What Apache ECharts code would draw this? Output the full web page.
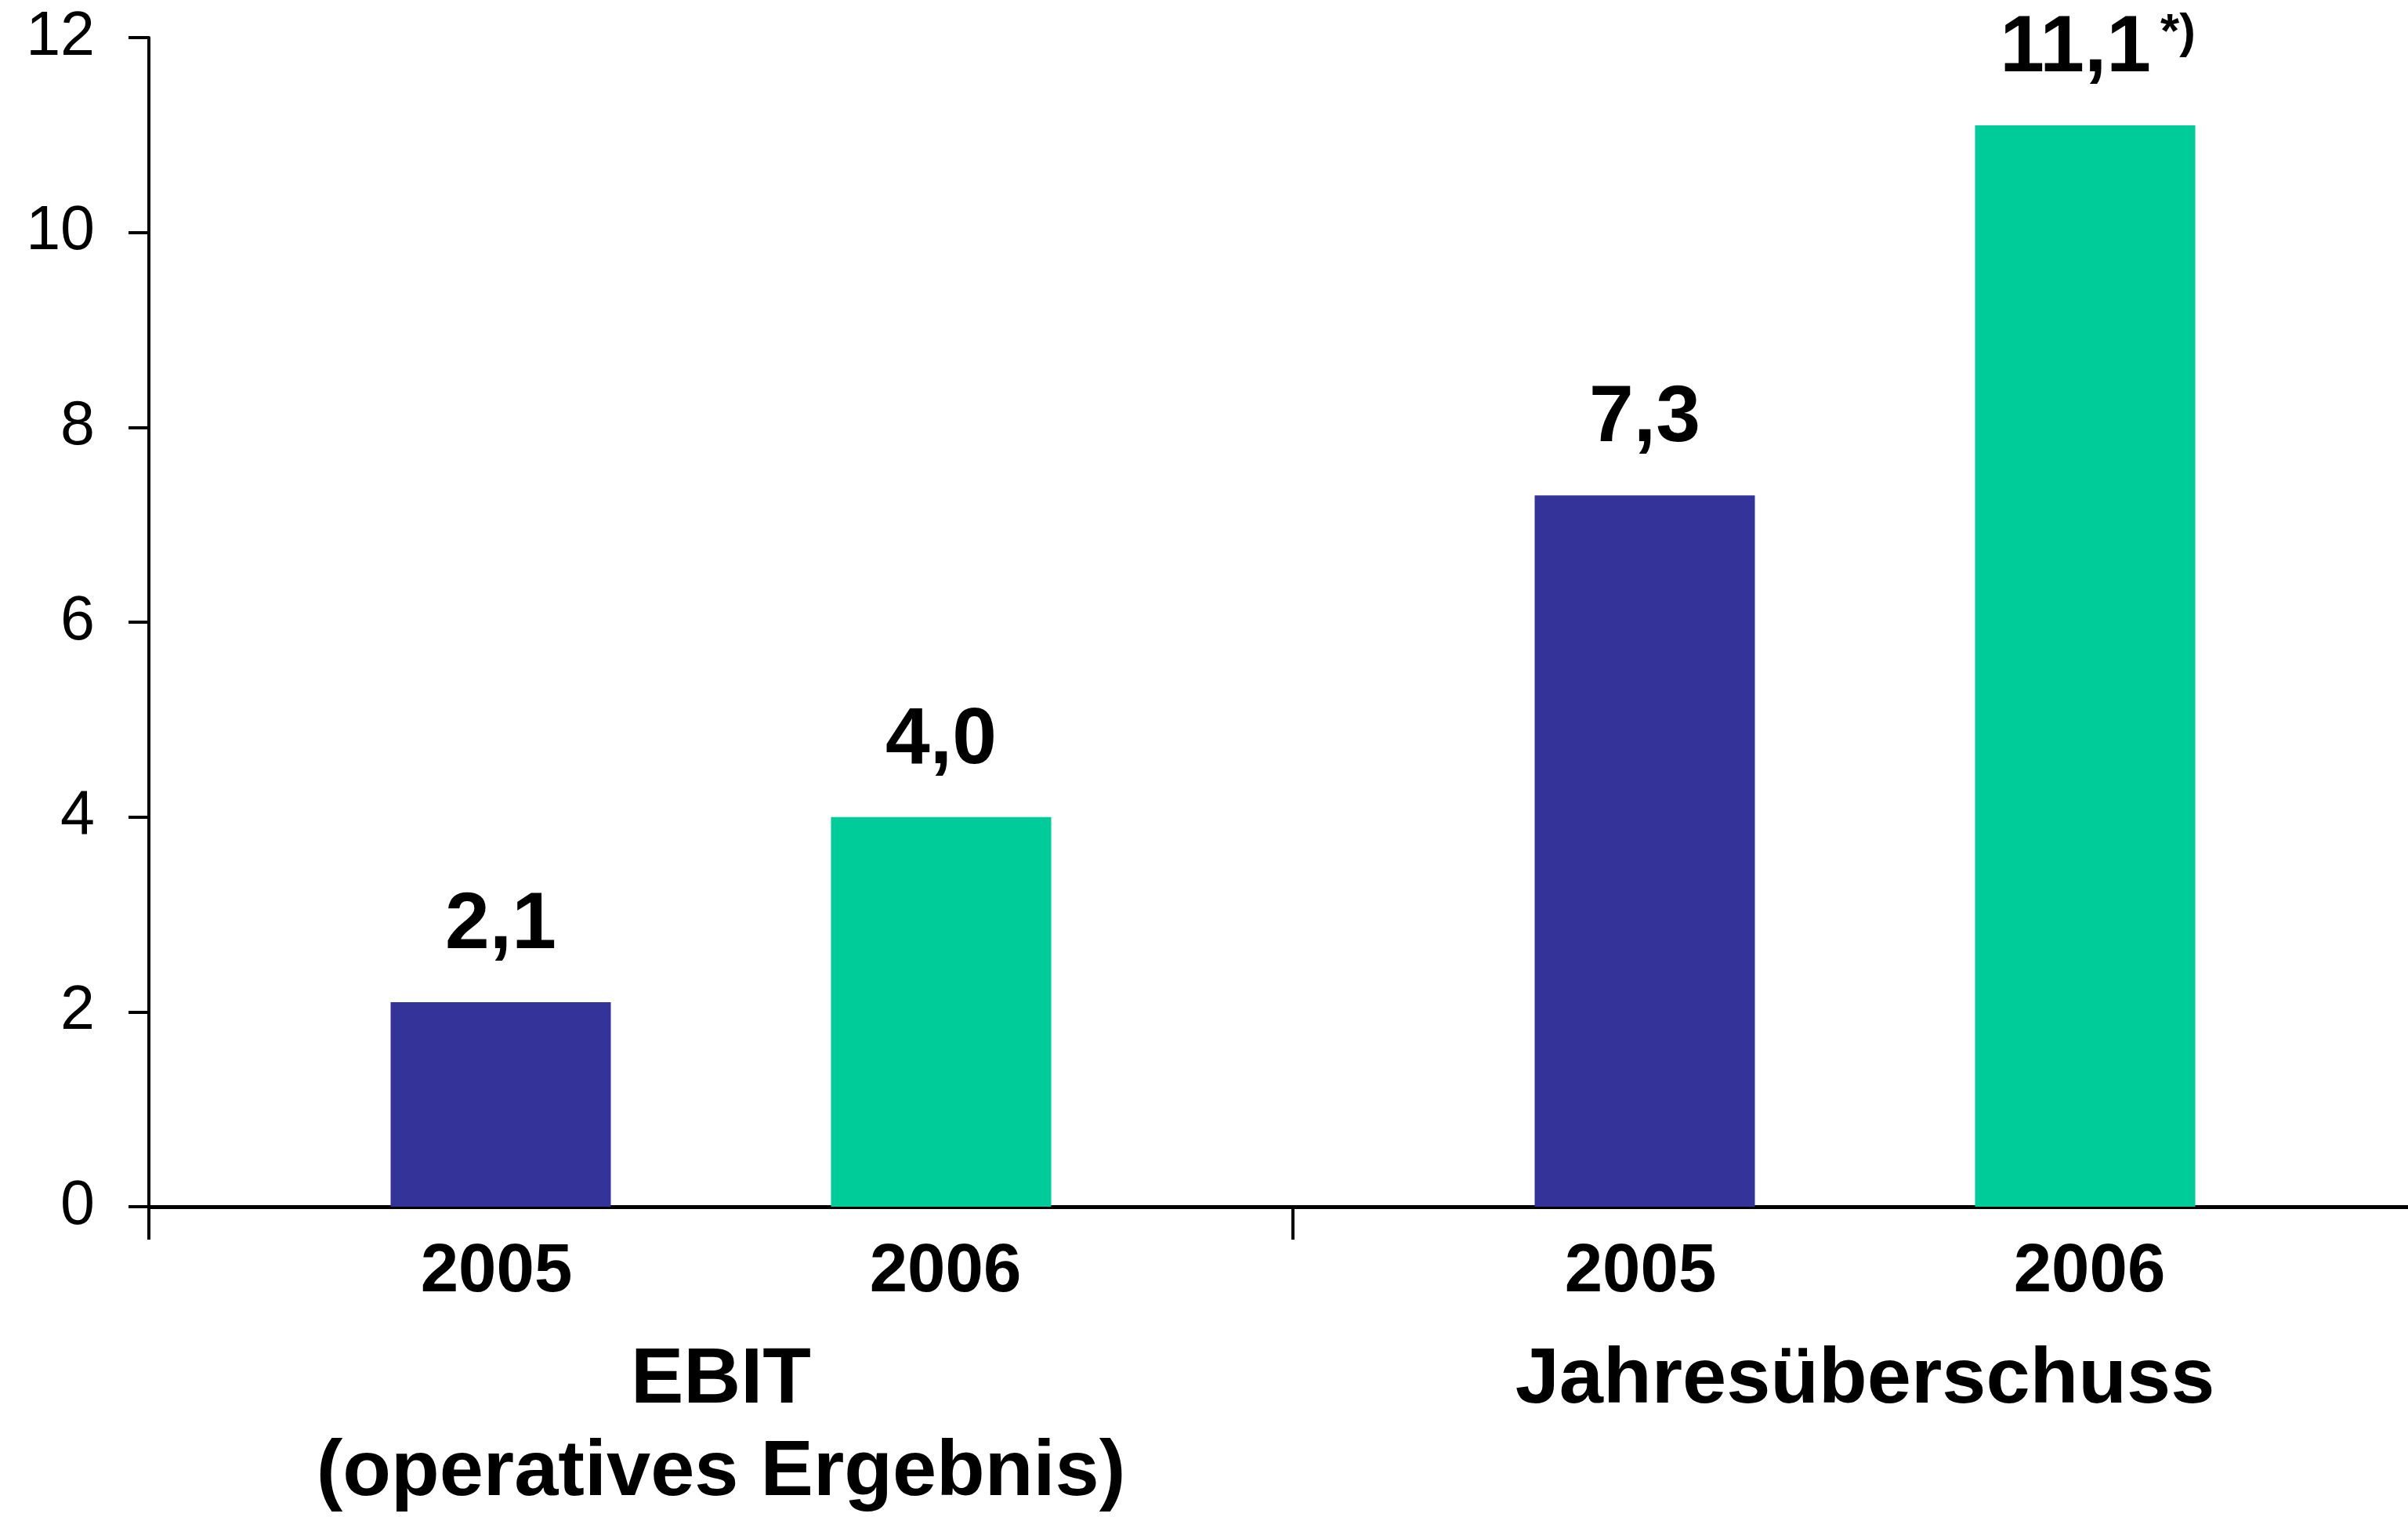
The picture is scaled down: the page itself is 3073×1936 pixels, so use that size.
<!doctype html>
<html lang="de">
<head>
    <meta charset="UTF-8">
    <title>EBIT und Jahresüberschuss</title>
    <style>
        html, body { margin: 0; padding: 0; background: #fff; overflow: hidden; }
        /* Achse läuft über den rechten Rand hinaus, daher breiter als das Fenster */
        #chart { width: 3110px; height: 1936px; }
    </style>
    <script src="https://cdn.jsdelivr.net/npm/echarts@6/dist/echarts.min.js"></script>
</head>
<body>
<div id="chart"></div>
<script type="text/javascript">
    // Kategorien (Titelzeilen je Gruppe)
    var categories = ['EBIT', 'Jahresüberschuss'];
    var subTitles = ['(operatives Ergebnis)', ''];
    var years = ['2005', '2006'];
    // Werte in Mio. EUR
    var values2005 = [2.1, 7.3];
    var values2006 = [4.0, 11.1];
    var notes2006 = ['', '*)'];
    var yTicks = [0, 2, 4, 6, 8, 10, 12];

    var font = "'Liberation Sans', Arial, sans-serif";

    function fmt(v) {
        return v.toFixed(1).replace('.', ',');
    }

    var myChart = echarts.init(document.getElementById('chart'));

    var valueLabel = {
        show: true,
        position: 'top',
        distance: 42,
        formatter: function (p) {
            var s = '{v|' + fmt(p.value) + '}';
            if (p.seriesIndex === 1 && notes2006[p.dataIndex]) {
                s += '{s|' + notes2006[p.dataIndex] + '}';
            }
            return s;
        },
        rich: {
            v: {
                fontFamily: font, fontWeight: 'bold', fontSize: 102,
                lineHeight: 110, color: '#000'
            },
            s: {
                fontFamily: font, fontWeight: 'bold', fontSize: 62,
                lineHeight: 64, verticalAlign: 'top', padding: [4, 0, 0, 12],
                color: '#000',
                textShadowColor: '#7a93b3', textShadowOffsetX: 3, textShadowOffsetY: 2, textShadowBlur: 0
            }
        }
    };

    var data2006 = values2006.map(function (v, i) {
        if (notes2006[i]) {
            return { value: v, label: { offset: [16, 0] } };
        }
        return v;
    });

    myChart.setOption({
        animation: false,
        backgroundColor: '#fff',
        grid: { left: 190, top: 48, right: 0, height: 1492 },
        xAxis: {
            type: 'category',
            data: categories,
            axisLine: { show: true, lineStyle: { color: '#000', width: 5 } },
            axisTick: { show: true, length: 42, interval: 0, lineStyle: { color: '#000', width: 4 } },
            axisLabel: {
                interval: 0,
                margin: 5,
                formatter: function (val, idx) {
                    var s = '{y|' + years[0] + '}{y|' + years[1] + '}\n{t|' + val + '}';
                    if (subTitles[idx]) s += '\n{t|' + subTitles[idx] + '}';
                    return s;
                },
                rich: {
                    y: {
                        fontFamily: font, fontWeight: 'bold', fontSize: 87,
                        lineHeight: 158, width: 573, align: 'center', color: '#000'
                    },
                    t: {
                        fontFamily: font, fontWeight: 'bold', fontSize: 101,
                        lineHeight: 118, color: '#000'
                    }
                }
            },
            splitLine: { show: false }
        },
        yAxis: {
            type: 'value',
            min: yTicks[0],
            max: yTicks[yTicks.length - 1],
            interval: 2,
            axisLine: { show: true, lineStyle: { color: '#000', width: 4 } },
            axisTick: { show: true, length: 26, lineStyle: { color: '#000', width: 4 } },
            axisLabel: {
                margin: 69,
                fontFamily: font, fontSize: 79, color: '#000'
            },
            splitLine: { show: false }
        },
        series: [
            {
                name: years[0],
                type: 'bar',
                data: values2005,
                barWidth: 281,
                barGap: '100%',
                itemStyle: { color: '#333399' },
                label: valueLabel
            },
            {
                name: years[1],
                type: 'bar',
                data: data2006,
                barWidth: 281,
                barGap: '100%',
                itemStyle: { color: '#00CC99' },
                label: valueLabel
            }
        ]
    });
</script>
</body>
</html>
